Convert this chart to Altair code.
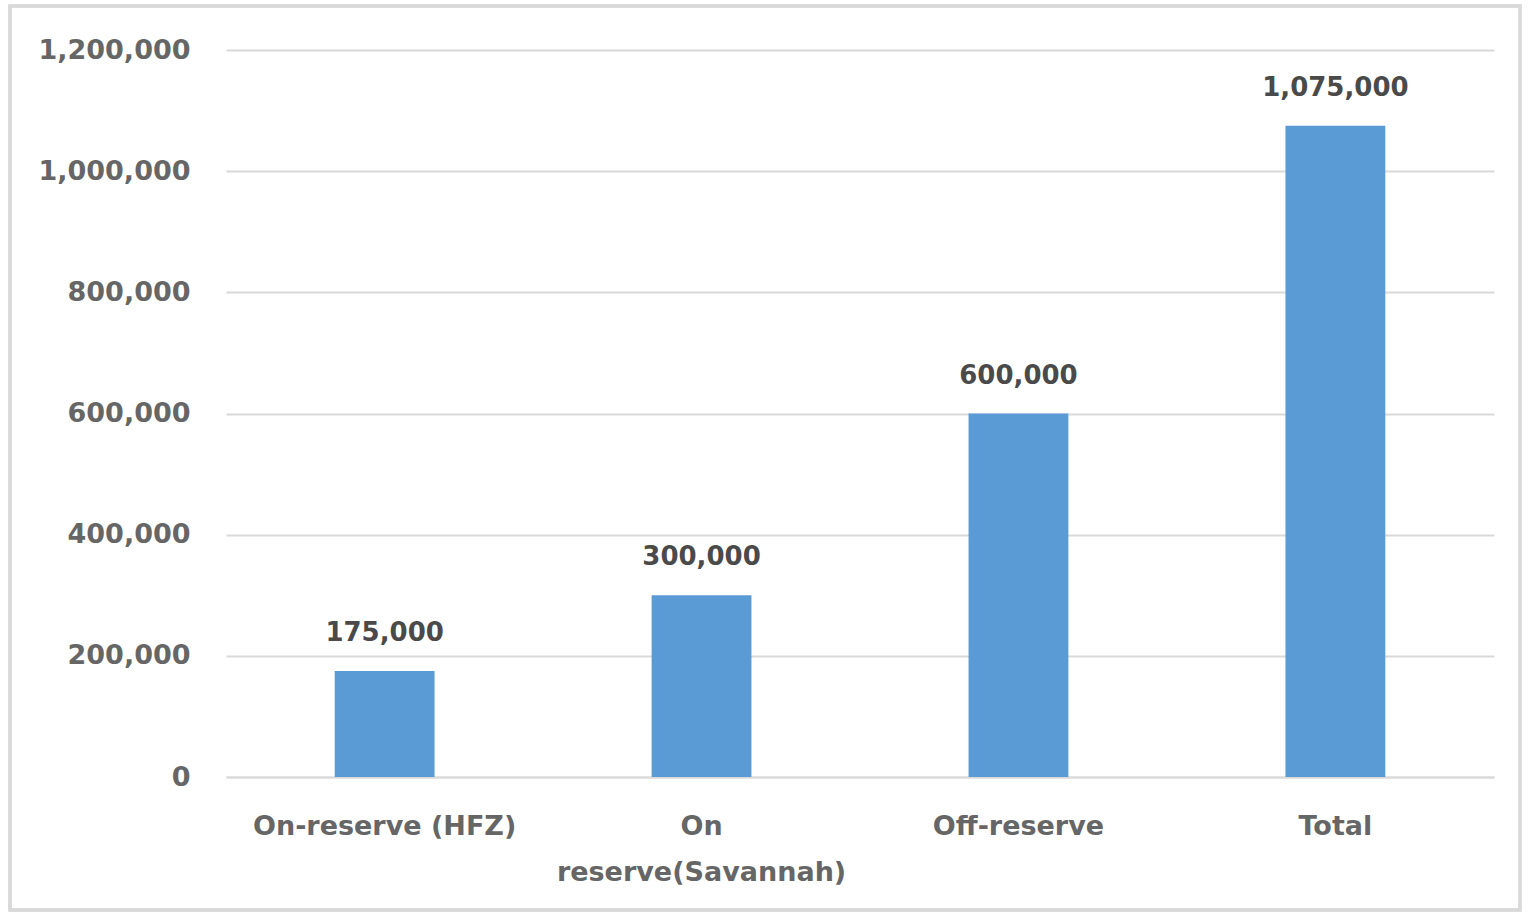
import altair as alt
import pandas as pd

categories = ["On-reserve (HFZ)", "On\nreserve(Savannah)", "Off-reserve", "Total"]
values = [175000, 300000, 600000, 1075000]
y_ticks = [0, 200000, 400000, 600000, 800000, 1000000, 1200000]

df = pd.DataFrame({"category": categories, "value": values})

FONT = "DejaVu Sans"

x_enc = alt.X(
    "category:N",
    sort=categories,
    title=None,
    scale=alt.Scale(paddingInner=0.685, paddingOuter=0.343),
    axis=alt.Axis(
        labelAngle=0,
        labelExpr="split(datum.label, '\\n')",
        labelFont=FONT,
        labelFontSize=27,
        labelFontWeight="bold",
        labelColor="#666666",
        labelPadding=36,
        labelLineHeight=46,
        labelLimit=0,
        ticks=False,
        domain=True,
        domainColor="#d9d9d9",
        domainWidth=2,
        grid=False,
    ),
)

y_enc = alt.Y(
    "value:Q",
    title=None,
    scale=alt.Scale(domain=[0, 1200000], nice=False),
    axis=alt.Axis(
        values=y_ticks,
        format=",.0f",
        labelFont=FONT,
        labelFontSize=27,
        labelFontWeight="bold",
        labelColor="#666666",
        labelPadding=36,
        labelLimit=0,
        ticks=False,
        domain=False,
        grid=True,
        gridColor="#d9d9d9",
        gridWidth=2,
    ),
)

bars = alt.Chart(df).mark_bar(color="#5b9bd5").encode(x=x_enc, y=y_enc)

labels = alt.Chart(df).mark_text(
    baseline="bottom",
    dy=-25,
    font=FONT,
    fontSize=26,
    fontWeight="bold",
    color="#4a4a4a",
).encode(
    x=alt.X("category:N", sort=categories),
    y="value:Q",
    text=alt.Text("value:Q", format=",.0f"),
)

border = alt.Chart(df).mark_rect(
    fill=None, stroke="#d9d9d9", strokeWidth=3, clip=False
).encode(
    x=alt.value(-216), x2=alt.value(1294),
    y=alt.value(-44), y2=alt.value(860),
)

chart = alt.layer(border, bars, labels).properties(
    width=1268,
    height=727,
    autosize=alt.AutoSizeParams(type="none"),
    padding={"left": 226, "top": 50, "right": 35, "bottom": 138},
    background="white",
).configure_view(stroke=None)

chart.save("out.html", embed_options={"renderer": "svg", "actions": False})
